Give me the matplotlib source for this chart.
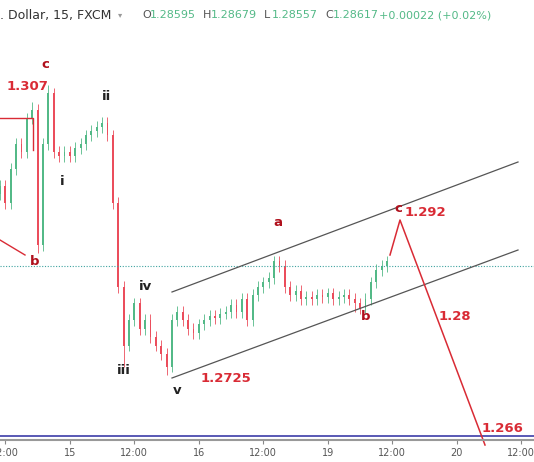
import matplotlib
matplotlib.use("Agg")
import matplotlib.pyplot as plt

# hourly closes (bar index = hours from chart left edge)
closes = [1.2950, 1.2930, 1.2970, 1.3000, 1.2990, 1.3030, 1.3040, 1.2880, 1.3000, 1.3060,
          1.2990, 1.2985, 1.2990, 1.2985, 1.2995, 1.3000, 1.3010, 1.3015, 1.3020, 1.3025,
          1.3010, 1.2930, 1.2830, 1.2760, 1.2790, 1.2810, 1.2780, 1.2790, 1.2770, 1.2760,
          1.2750, 1.2735, 1.2790, 1.2800, 1.2790, 1.2780, 1.2775, 1.2785, 1.2790, 1.2795,
          1.2793, 1.2798, 1.2800, 1.2808, 1.2800, 1.2815, 1.2790, 1.2820, 1.2830, 1.2835,
          1.2840, 1.2860, 1.2855, 1.2830, 1.2820, 1.2825, 1.2815, 1.2818, 1.2815, 1.2820,
          1.2818, 1.2822, 1.2815, 1.2818, 1.2820, 1.2815, 1.2810, 1.2805, 1.2815, 1.2835,
          1.2850, 1.2855, 1.2860]
first_open = 1.2940
high_overrides = {9: 1.3070, 51: 1.2866, 6: 1.3050, 19: 1.3032}
low_overrides = {31: 1.2725, 23: 1.2735, 7: 1.2870, 66: 1.2800}
wick = 0.0007

tick_pos = [1, 13, 25, 37, 49, 61, 73, 85, 97]
tick_labels = ["12:00", "15", "12:00", "16", "12:00", "19", "12:00", "20", "12:00"]

PX = 5.375          # pixels per bar
K = 0.000119        # price per pixel


def xd(px):
    return px / PX


def yd(py):
    return 1.307 - (py - 85) * K


fig = plt.figure(figsize=(5.34, 4.62), dpi=100)
bottom = 22 / 462
ax = fig.add_axes([0, bottom, 1, 1 - bottom])
ax.set_xlim(0, xd(534))
ax.set_ylim(yd(440), yd(0))

opens = [first_open] + closes[:-1]
for i, (o, c) in enumerate(zip(opens, closes)):
    col = "#53b987" if c >= o else "#eb4d5c"
    hi = high_overrides.get(i, max(o, c) + wick)
    lo = low_overrides.get(i, min(o, c) - wick)
    ax.vlines(i, lo, hi, color=col, lw=0.6)
    ax.bar(i, abs(c - o) or 0.00005, bottom=min(o, c), width=0.35, color=col, lw=0)

# current price dotted line and bottom blue line
ax.axhline(yd(266), color="#3fa3a0", ls=(0, (1, 1.5)), lw=0.8)
ax.axhline(yd(436), color="#3c3ca8", lw=1.2)

# channel lines
ax.plot([xd(172), xd(518)], [yd(292), yd(162)], color="#555555", lw=0.9)
ax.plot([xd(172), xd(518)], [yd(378), yd(250)], color="#555555", lw=0.9)

# red wave lines
red = "#d92b35"
ax.plot([0, xd(33), xd(33)], [yd(118), yd(118), yd(150)], color=red, lw=1)
ax.plot([0, xd(25)], [yd(240), yd(255)], color=red, lw=1)
ax.plot([xd(390), xd(400), xd(485)], [yd(255), yd(220), yd(445)], color=red, lw=1.1, clip_on=False)

dark_red = "#b0101c"
labels = [
    ("c", 45, 64, dark_red), ("1.307", 28, 86, red), ("ii", 107, 97, "#222222"),
    ("i", 62, 181, "#222222"), ("b", 35, 261, dark_red), ("a", 278, 223, dark_red),
    ("c", 398, 209, dark_red), ("1.292", 425, 212, red), ("iv", 146, 286, "#222222"),
    ("iii", 124, 371, "#222222"), ("v", 177, 390, "#222222"), ("1.2725", 226, 379, red),
    ("b", 366, 316, dark_red), ("1.28", 455, 316, red), ("1.266", 503, 428, red),
]
for s, px, py, c in labels:
    ax.text(xd(px), yd(py), s, color=c, fontsize=9.5, fontweight="bold",
            ha="center", va="center")

ax.set_xticks(tick_pos)
ax.set_xticklabels(tick_labels, fontsize=7, color="#555555")
ax.set_yticks([])
ax.tick_params(axis="x", length=3, color="#888888", pad=3)
for side in ["top", "left", "right"]:
    ax.spines[side].set_visible(False)
ax.spines["bottom"].set_color("#999999")
ax.spines["bottom"].set_linewidth(1.5)

# header
hy = 1 - 15 / 462
fig.text(0.0, hy, ". Dollar, 15, FXCM", fontsize=9, color="#333333", va="center")
fig.text(118 / 534, hy, "▾", fontsize=6, color="#999999", va="center")
green = "#53b987"
hx = 142
for pre, val in [("O", "1.28595"), ("H", "1.28679"), ("L", "1.28557"), ("C", "1.28617")]:
    fig.text(hx / 534, hy, pre, fontsize=8, color="#555555", va="center")
    fig.text((hx + 8) / 534, hy, val, fontsize=8, color=green, va="center")
    hx += 61
fig.text((hx - 7) / 534, hy, "+0.00022 (+0.02%)", fontsize=8, color=green, va="center")

fig.savefig("out.png", dpi=100)
